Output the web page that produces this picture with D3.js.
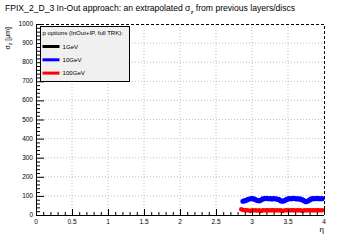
<!DOCTYPE html>
<html>
<head>
<meta charset="utf-8">
<script src="https://cdn.jsdelivr.net/npm/d3@7"></script>
<style>
body { margin: 0; background: #fff; }
svg { display: block; font-family: "Liberation Sans", Arial, sans-serif; }
</style>
</head>
<body>
<script>
// eta bins and sigma_z values (um)
var etaBlue = [2.875, 2.9, 2.925, 2.95, 2.975, 3.0, 3.025, 3.05, 3.075, 3.1, 3.125, 3.15, 3.175, 3.2, 3.225,
    3.25, 3.275, 3.3, 3.325, 3.35, 3.375, 3.4, 3.425, 3.45, 3.475, 3.5, 3.525, 3.55, 3.575, 3.6,
    3.625, 3.65, 3.675, 3.7, 3.725, 3.75, 3.775, 3.8, 3.825, 3.85, 3.875, 3.9, 3.925, 3.95, 3.975]
var sigma10GeV = [72, 75, 78, 82, 85, 86, 84, 80, 76, 74, 78, 84, 86, 87, 85,
    86, 84, 86, 85, 83, 80, 74, 72, 75, 80, 84, 86, 85, 87, 86,
    84, 85, 83, 79, 74, 70, 73, 79, 84, 86, 85, 87, 86, 85, 86]
var etaRed = [2.85, 2.875, 2.9, 2.925, 2.95, 2.975, 3.0, 3.025, 3.05, 3.075, 3.1, 3.125, 3.15, 3.175, 3.2, 3.225,
    3.25, 3.275, 3.3, 3.325, 3.35, 3.375, 3.4, 3.425, 3.45, 3.475, 3.5, 3.525, 3.55, 3.575, 3.6,
    3.625, 3.65, 3.675, 3.7, 3.725, 3.75, 3.775, 3.8, 3.825, 3.85, 3.875, 3.9, 3.925, 3.95, 3.975]
var sigma100GeV = [30, 26, 25, 25, 24, 21, 25, 24, 25, 23, 25, 21, 25, 24, 25, 25,
    24, 25, 25, 24, 25, 24, 25, 21, 24, 25, 25, 24, 25, 25, 24,
    25, 24, 25, 21, 25, 24, 25, 25, 24, 25, 24, 25, 25, 24, 25]
var sigma1GeV = []   // nothing inside the drawn range

var legendItems = [
    {label: "1GeV", color: "#000000"},
    {label: "10GeV", color: "#0000ff"},
    {label: "100GeV", color: "#ff0000"}
]
var xTicks = [0, 0.5, 1, 1.5, 2, 2.5, 3, 3.5, 4]
var yTicks = [0, 100, 200, 300, 400, 500, 600, 700, 800, 900, 1000]

var svgWidth = 360, svgHeight = 240
var margin = {top: 24, right: 36, bottom: 25, left: 36}
var width = svgWidth - margin.left - margin.right
var height = svgHeight - margin.top - margin.bottom

var svg = d3.select("body").append("svg")
    .attr("width", svgWidth)
    .attr("height", svgHeight)

svg.append("text")
    .attr("x", 5).attr("y", 11)
    .style("font-size", "8.6px")
    .html('FPIX_2_D_3 In-Out approach: an extrapolated σ<tspan dy="2.5" font-size="6px">z</tspan><tspan dy="-2.5"> from previous layers/discs</tspan>')

var x = d3.scaleLinear().domain([0, 4]).range([0, width])
var y = d3.scaleLinear().domain([0, 1000]).range([height, 0])

var g = svg.append("g").attr("transform", "translate(" + margin.left + "," + margin.top + ")")

// dotted grid
g.append("g").selectAll("line").data(xTicks.slice(1, -1)).enter().append("line")
    .attr("x1", d => x(d)).attr("x2", d => x(d))
    .attr("y1", 0).attr("y2", height)
    .attr("stroke", "#c0c0c0").attr("stroke-dasharray", "1,2")
g.append("g").selectAll("line").data(yTicks.slice(1, -1)).enter().append("line")
    .attr("x1", 0).attr("x2", width)
    .attr("y1", d => y(d)).attr("y2", d => y(d))
    .attr("stroke", "#c0c0c0").attr("stroke-dasharray", "1,2")

// dashed top/right frame
g.append("path")
    .attr("d", "M0,0.5H" + (width + 0.5) + "V" + height)
    .attr("fill", "none").attr("stroke", "#000").attr("stroke-dasharray", "3,2")

// data
g.append("g").selectAll("circle").data(sigma100GeV).enter().append("circle")
    .attr("cx", (d, i) => x(etaRed[i])).attr("cy", d => y(d))
    .attr("r", 2.2).attr("fill", "#ff0000")
g.append("g").selectAll("circle").data(sigma10GeV).enter().append("circle")
    .attr("cx", (d, i) => x(etaBlue[i])).attr("cy", d => y(d))
    .attr("r", 2.6).attr("fill", "#0000ff")
g.append("g").selectAll("circle").data(sigma1GeV).enter().append("circle")
    .attr("cx", d => x(d.eta)).attr("cy", d => y(d.v))
    .attr("r", 2.6).attr("fill", "#000")

// axes, ticks pointing inward like ROOT
var xAxis = d3.axisTop(x).tickValues(d3.range(0, 4.001, 0.1)).tickSize(3).tickFormat("")
var gx = g.append("g").attr("transform", "translate(0," + height + ")").call(xAxis)
gx.selectAll(".tick line").filter(d => xTicks.some(t => Math.abs(t - d) < 1e-6)).attr("y2", -6)
gx.select(".domain").remove()
g.append("line").attr("x1", 0).attr("x2", width).attr("y1", height + 0.5).attr("y2", height + 0.5)
    .attr("stroke", "#000")
g.append("g").selectAll("text").data(xTicks).enter().append("text")
    .attr("x", d => x(d)).attr("y", height + 9)
    .attr("text-anchor", "middle").style("font-size", "6.5px")
    .text(d => d)

var yAxis = d3.axisRight(y).tickValues(d3.range(0, 1001, 20)).tickSize(4).tickFormat("")
var gy = g.append("g").call(yAxis)
gy.selectAll(".tick line").filter(d => d % 100 == 0).attr("x2", 8)
gy.select(".domain").remove()
g.append("line").attr("x1", 0.5).attr("x2", 0.5).attr("y1", 0).attr("y2", height)
    .attr("stroke", "#000")
g.append("g").selectAll("text").data(yTicks).enter().append("text")
    .attr("x", -3).attr("y", d => y(d) + 2)
    .attr("text-anchor", "end").style("font-size", "6.5px")
    .text(d => d)

// axis titles
svg.append("text")
    .attr("transform", "translate(10,27) rotate(-90)")
    .attr("text-anchor", "end").style("font-size", "7px")
    .html('σ<tspan dy="2" font-size="5px">z</tspan><tspan dy="-2"> [μm]</tspan>')
svg.append("text")
    .attr("x", 324).attr("y", 232)
    .attr("text-anchor", "end").style("font-size", "8px")
    .text("η")

// legend
var leg = svg.append("g").attr("transform", "translate(40.5,26.5)")
leg.append("rect").attr("width", 89).attr("height", 55)
    .attr("fill", "#f0f0f0").attr("stroke", "#000")
leg.append("text").attr("x", 2).attr("y", 8).style("font-size", "6.1px")
    .text("p options (InOut+IP, full TRK):")
var items = leg.selectAll(".item").data(legendItems).enter().append("g")
    .attr("transform", (d, i) => "translate(0," + (20 + i * 13.3) + ")")
items.append("line").attr("x1", 2).attr("x2", 19)
    .attr("stroke", d => d.color).attr("stroke-width", 3)
items.append("text").attr("x", 22).attr("y", 2).style("font-size", "6.1px")
    .text(d => d.label)
</script>
</body>
</html>
